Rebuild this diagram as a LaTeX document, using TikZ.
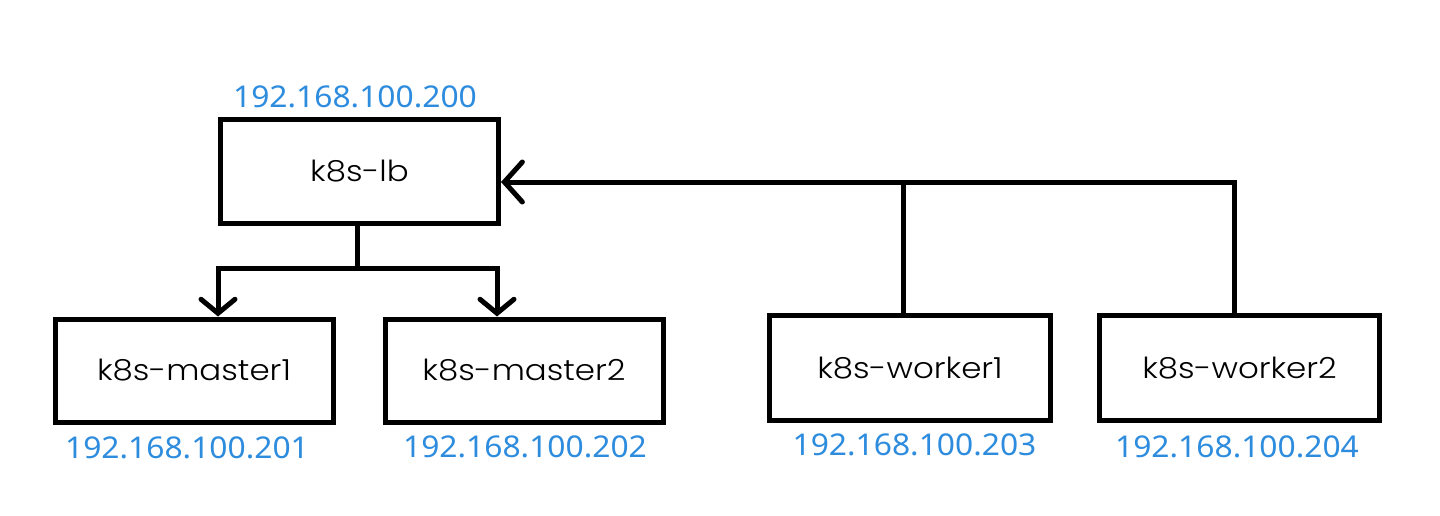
\documentclass[tikz,border=0pt]{standalone}
\usepackage{fontspec}
\usetikzlibrary{arrows.meta}
\newfontfamily\boxfont[FakeStretch=1.12]{Poppins Light}
\newfontfamily\ipfont[FakeStretch=1.06]{Noto Sans}
\definecolor{ipblue}{RGB}{45,140,222}
\begin{document}
\begin{tikzpicture}[x=1pt,y=-1pt,
  box/.style={draw=black, line width=5pt, minimum width=278pt, minimum height=104pt,
    inner sep=0pt, font=\boxfont\fontsize{29}{34}\selectfont},
  ip/.style={text=ipblue, font=\ipfont\fontsize{30}{36}\selectfont, inner sep=0pt},
  conn/.style={line width=5pt},
  arrS/.style={conn, -{Straight Barb[length=14pt,width=34pt,line cap=round]}},
  arrL/.style={conn, -{Straight Barb[length=18pt,width=40pt,line cap=round]}}]
\useasboundingbox[fill=white] (0,0) rectangle (1440,516);

\node[box] (lb) at (359.5,171.5) {k8s-lb};
\node[box, minimum height=103pt] (m1) at (194,370.5) {k8s-master1};
\node[box, minimum height=103pt] (m2) at (524,370.5) {k8s-master2};
\node[box, minimum width=281pt, minimum height=105pt] (w1) at (910,368) {k8s-worker1};
\node[box, minimum width=280pt, minimum height=105pt] (w2) at (1239.5,368) {k8s-worker2};

\node[ip] (lbip) at (355,96.5) {192.168.100.200};
\node[ip] (m1ip) at (187,447.5) {192.168.100.201};
\node[ip] (m2ip) at (525,446.5) {192.168.100.202};
\node[ip] (w1ip) at (914.5,445) {192.168.100.203};
\node[ip] (w2ip) at (1237,447) {192.168.100.204};

\coordinate (split) at (357,268);
\draw[conn] (lb.south -| split) -- (split);
\draw[arrS] (split) -| ([xshift=24pt]m1.north);
\draw[arrS] (split) -| ([xshift=-27pt]m2.north);

\coordinate (lbin) at ([yshift=-10.5pt]lb.east);
\draw[arrL] ([xshift=-5.5pt]w2.north) |- (lbin);
\draw[conn] ([xshift=-7pt]w1.north) -- ([xshift=-7pt]w1.north |- lbin);
\end{tikzpicture}
\end{document}
